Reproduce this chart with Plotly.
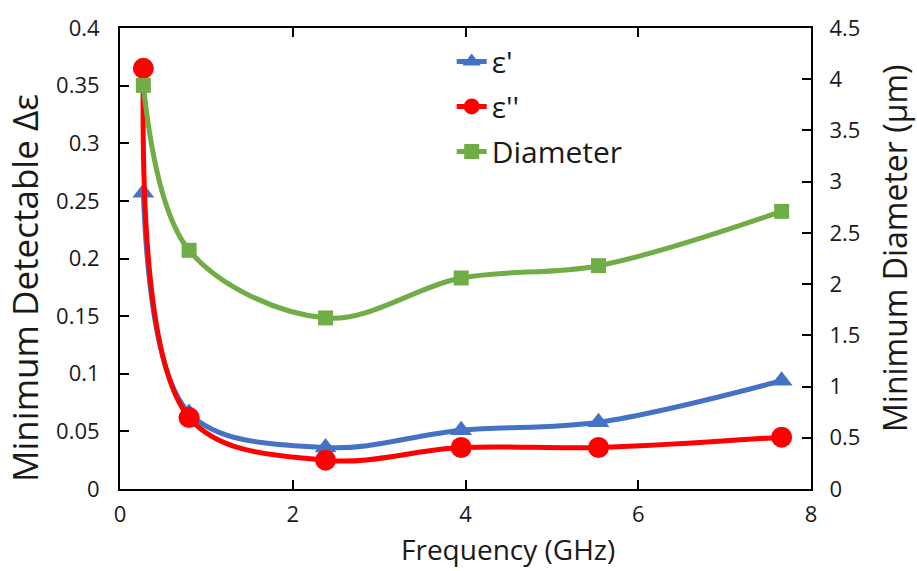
import plotly.graph_objects as go

freq = [0.27, 0.80, 2.38, 3.95, 5.54, 7.66]
eps_real = [0.257, 0.066, 0.036, 0.051, 0.058, 0.094]
eps_imag = [0.365, 0.062, 0.025, 0.036, 0.036, 0.045]
diameter = [3.94, 2.33, 1.67, 2.06, 2.18, 2.71]

x_ticks = [0, 2, 4, 6, 8]
y1_ticks = [0, 0.05, 0.1, 0.15, 0.2, 0.25, 0.3, 0.35, 0.4]
y1_labels = ["0", "0.05", "0.1", "0.15", "0.2", "0.25", "0.3", "0.35", "0.4"]
y2_ticks = [0, 0.5, 1, 1.5, 2, 2.5, 3, 3.5, 4, 4.5]
y2_labels = ["0", "0.5", "1", "1.5", "2", "2.5", "3", "3.5", "4", "4.5"]

x_title = "Frequency (GHz)"
y1_title = "Minimum Detectable Δε"
y2_title = "Minimum Diameter (μm)"

BLUE = "#4472C4"
RED = "#FF0000"
GREEN = "#70AD47"
FONT = "Open Sans, Lato, sans-serif"
TXT = "#1a1a1a"

fig = go.Figure()
fig.add_trace(go.Scatter(x=freq, y=eps_real, name="ε'", mode="lines+markers",
                         line=dict(color=BLUE, width=5, shape="spline", smoothing=1.0),
                         marker=dict(symbol="triangle-up", size=19, color=BLUE),
                         legendgroup="a"))
fig.add_trace(go.Scatter(x=freq, y=eps_imag, name="ε''", mode="lines+markers",
                         line=dict(color=RED, width=5, shape="spline", smoothing=1.0),
                         marker=dict(symbol="circle", size=21, color=RED),
                         legendgroup="b"))
fig.add_trace(go.Scatter(x=freq, y=diameter, name="Diameter", mode="lines+markers",
                         line=dict(color=GREEN, width=5, shape="spline", smoothing=1.0),
                         marker=dict(symbol="square", size=15, color=GREEN),
                         yaxis="y2", legendgroup="c"))

axis_common = dict(showgrid=False, zeroline=False, showline=True, linecolor="black",
                   linewidth=2, ticks="inside", ticklen=9, tickwidth=2, tickcolor="black",
                   ticklabeloverflow="allow",
                   tickfont=dict(size=22, color=TXT, family=FONT))

fig.update_layout(
    width=917, height=571,
    margin=dict(l=120, r=106, t=14, b=82),
    paper_bgcolor="white", plot_bgcolor="white",
    font=dict(family=FONT, color=TXT),
    xaxis=dict(range=[0, 8], tickvals=x_ticks, mirror="ticks", ticklabelstandoff=5,
               **axis_common),
    yaxis=dict(range=[0, 0.4], tickvals=y1_ticks, ticktext=y1_labels, ticklabelstandoff=14,
               **axis_common),
    yaxis2=dict(range=[0, 4.5], tickvals=y2_ticks, ticktext=y2_labels, overlaying="y",
                side="right", ticklabelstandoff=12,
                **axis_common),
    legend=dict(x=0.48, y=0.984, xanchor="left", yanchor="top", bgcolor="rgba(0,0,0,0)",
                font=dict(size=30, family=FONT, color=TXT), tracegroupgap=3,
                itemwidth=30),
    showlegend=True,
    annotations=[
        dict(text=x_title, xref="paper", yref="paper", x=0.562, y=-0.131,
             xanchor="center", yanchor="middle", showarrow=False,
             font=dict(size=28, family=FONT, color=TXT)),
        dict(text=y1_title, xref="paper", yref="paper", x=-0.139, y=0.436,
             xanchor="center", yanchor="middle", showarrow=False, textangle=-90,
             font=dict(size=35, family=FONT, color=TXT)),
        dict(text=y2_title, xref="paper", yref="paper", x=1.121, y=0.522,
             xanchor="center", yanchor="middle", showarrow=False, textangle=-90,
             font=dict(size=32, family=FONT, color=TXT)),
    ],
)

fig.write_html("out.html")
